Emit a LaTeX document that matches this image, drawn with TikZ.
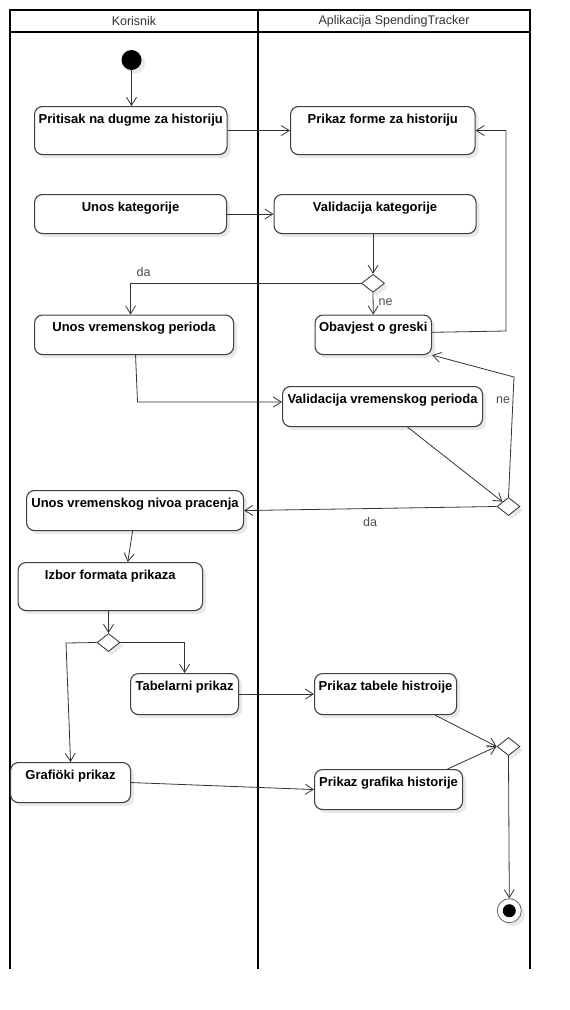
\documentclass[tikz,border=0pt]{standalone}
\usepackage{fontspec}
\setmainfont{Liberation Sans}
\usetikzlibrary{arrows.meta,shapes.geometric,shadows,calc}

\tikzset{
  lane/.style={line width=2.2pt, draw=black},
  softshadow/.style={drop shadow={shadow xshift=3.5pt,shadow yshift=-3.5pt,fill=black!9,opacity=1}},
  act/.style={draw=black!75, line width=1.1pt, rounded corners=8pt, fill=white, softshadow,
    font=\fontsize{13}{15}\selectfont\bfseries, inner xsep=3pt, inner ysep=4pt,
    text height=12.7pt, anchor=north west},
  decision/.style={diamond, draw=black!75, line width=0.9pt, fill=white, softshadow,
    minimum width=23pt, minimum height=18pt, inner sep=0pt},
  flow/.style={draw=black!80, line width=0.8pt,
    -{Straight Barb[length=8pt,width=10pt,line width=0.8pt]}},
  guard/.style={font=\fontsize{12.5}{14}\selectfont, text=black!70, inner sep=0pt},
  lanehead/.style={font=\fontsize{12.5}{14}\selectfont, text=black!80, inner sep=0pt},
}

% activity box: name, left, top, right, bottom, label (label sits near the top edge)
\newcommand\activity[6]{%
  \pgfmathsetmacro\actw{#4-#2}%
  \pgfmathsetmacro\actd{#5-#3-8-12.7}%
  \node[act, minimum width=\actw pt, text depth=\actd pt] (#1) at (#2,#3) {#6};}

\begin{document}
\begin{tikzpicture}[x=1pt,y=-1pt]
\useasboundingbox (0,0) rectangle (570,1010);

% swimlanes
\draw[lane] (10,969) -- (10,10) -- (530,10) -- (530,969);
\draw[lane] (258,10) -- (258,969);
\draw[lane] (10,32) -- (530,32);
\node[lanehead] (laneuser) at (134,21) {Korisnik};
\node[lanehead] (laneapp) at (394,21) {Aplikacija SpendingTracker};

% initial and final nodes
\node[circle, fill=black, minimum size=20pt, inner sep=0pt, softshadow] (start) at (131.5,60) {};
\node[circle, draw=black!60, line width=0.8pt, fill=white, minimum size=24pt, inner sep=0pt, softshadow] (endc) at (509.3,910.7) {};
\node[circle, fill=black, minimum size=13pt, inner sep=0pt] (endcore) at (endc) {};

% activities
\activity{prit}{34}{106}{226.5}{154}{Pritisak na dugme za historiju}
\activity{forme}{290}{106}{474.5}{154}{Prikaz forme za historiju}
\activity{unoskat}{34}{194}{226}{233}{Unos kategorije}
\activity{valkat}{273.5}{194}{475.5}{233}{Validacija kategorije}
\activity{unosper}{34}{314.5}{233}{354}{Unos vremenskog perioda}
\activity{obav}{314.5}{314.5}{431}{354}{Obavjest o greski}
\activity{valper}{282}{386}{482}{426}{Validacija vremenskog perioda}
\activity{nivo}{26}{490}{243}{530}{Unos vremenskog nivoa pracenja}
\activity{izbor}{17.5}{562}{202}{610}{Izbor formata prikaza}
\activity{tab}{130}{673}{238}{714}{Tabelarni prikaz}
\activity{graf}{10}{762}{130}{802}{Grafiöki prikaz}
\activity{ptab}{314}{673}{456}{714}{Prikaz tabele histroije}
\activity{pgraf}{314}{769}{462}{809}{Prikaz grafika historije}

% decisions
\node[decision] (d1) at (373,283.3) {};
\node[decision] (d2) at (508.5,506.5) {};
\node[decision] (d3) at (108.5,642.5) {};
\node[decision] (d4) at (508.5,746.5) {};

% bend points
\coordinate (r1) at (506,331);
\coordinate (c1) at (137.5,402);
\coordinate (c2) at (514,377);
\coordinate (c3) at (66,643);

% control flow
\draw[flow] (start) -- (start |- prit.north);
\draw[flow] (prit.east) -- (forme.west);
\draw[flow] (unoskat.east) -- (valkat.west);
\draw[flow] (d1.north |- valkat.south) -- (d1.north);
\draw[flow] (d1.west) -| ($(unosper.north)+(-3.5,0)$);
\draw[flow] (d1.south) -- (obav.north);
\draw[flow] ($(obav.east)+(0,-2.5)$) -- (r1) |- (forme.east);
\draw[flow] ($(unosper.south)+(1.5,0)$) -- (c1) -- (c1 -| valper.west);
\draw[flow] ($(valper.south)+(25,0)$) -- (d2);
\draw[flow] (d2.north) -- (c2) -- (obav.south east);
\draw[flow] (d2.west) -- (nivo.east);
\draw[flow] ($(nivo.south)+(-2.5,0)$) -- ($(izbor.north)+(17.5,0)$);
\draw[flow] (d3.north |- izbor.south) -- (d3.north);
\draw[flow] (d3.east) -| (tab.north);
\draw[flow] (d3.west) -- (c3) -- (graf.north);
\draw[flow] (tab.east) -- (ptab.west);
\draw[flow] (graf.east) -- (pgraf.west);
\draw[flow] ($(ptab.south)+(49.5,0)$) -- (d4.west);
\draw[flow] ($(pgraf.north)+(59,0)$) -- (d4.west);
\draw[flow] (d4.south) -- (endc.north);

% guards
\node[guard] (g1) at (143.6,271.7) {da};
\node[guard] (g2) at (385.5,302.3) {ne};
\node[guard] (g3) at (503,400) {ne};
\node[guard] (g4) at (370,522) {da};
\end{tikzpicture}
\end{document}
